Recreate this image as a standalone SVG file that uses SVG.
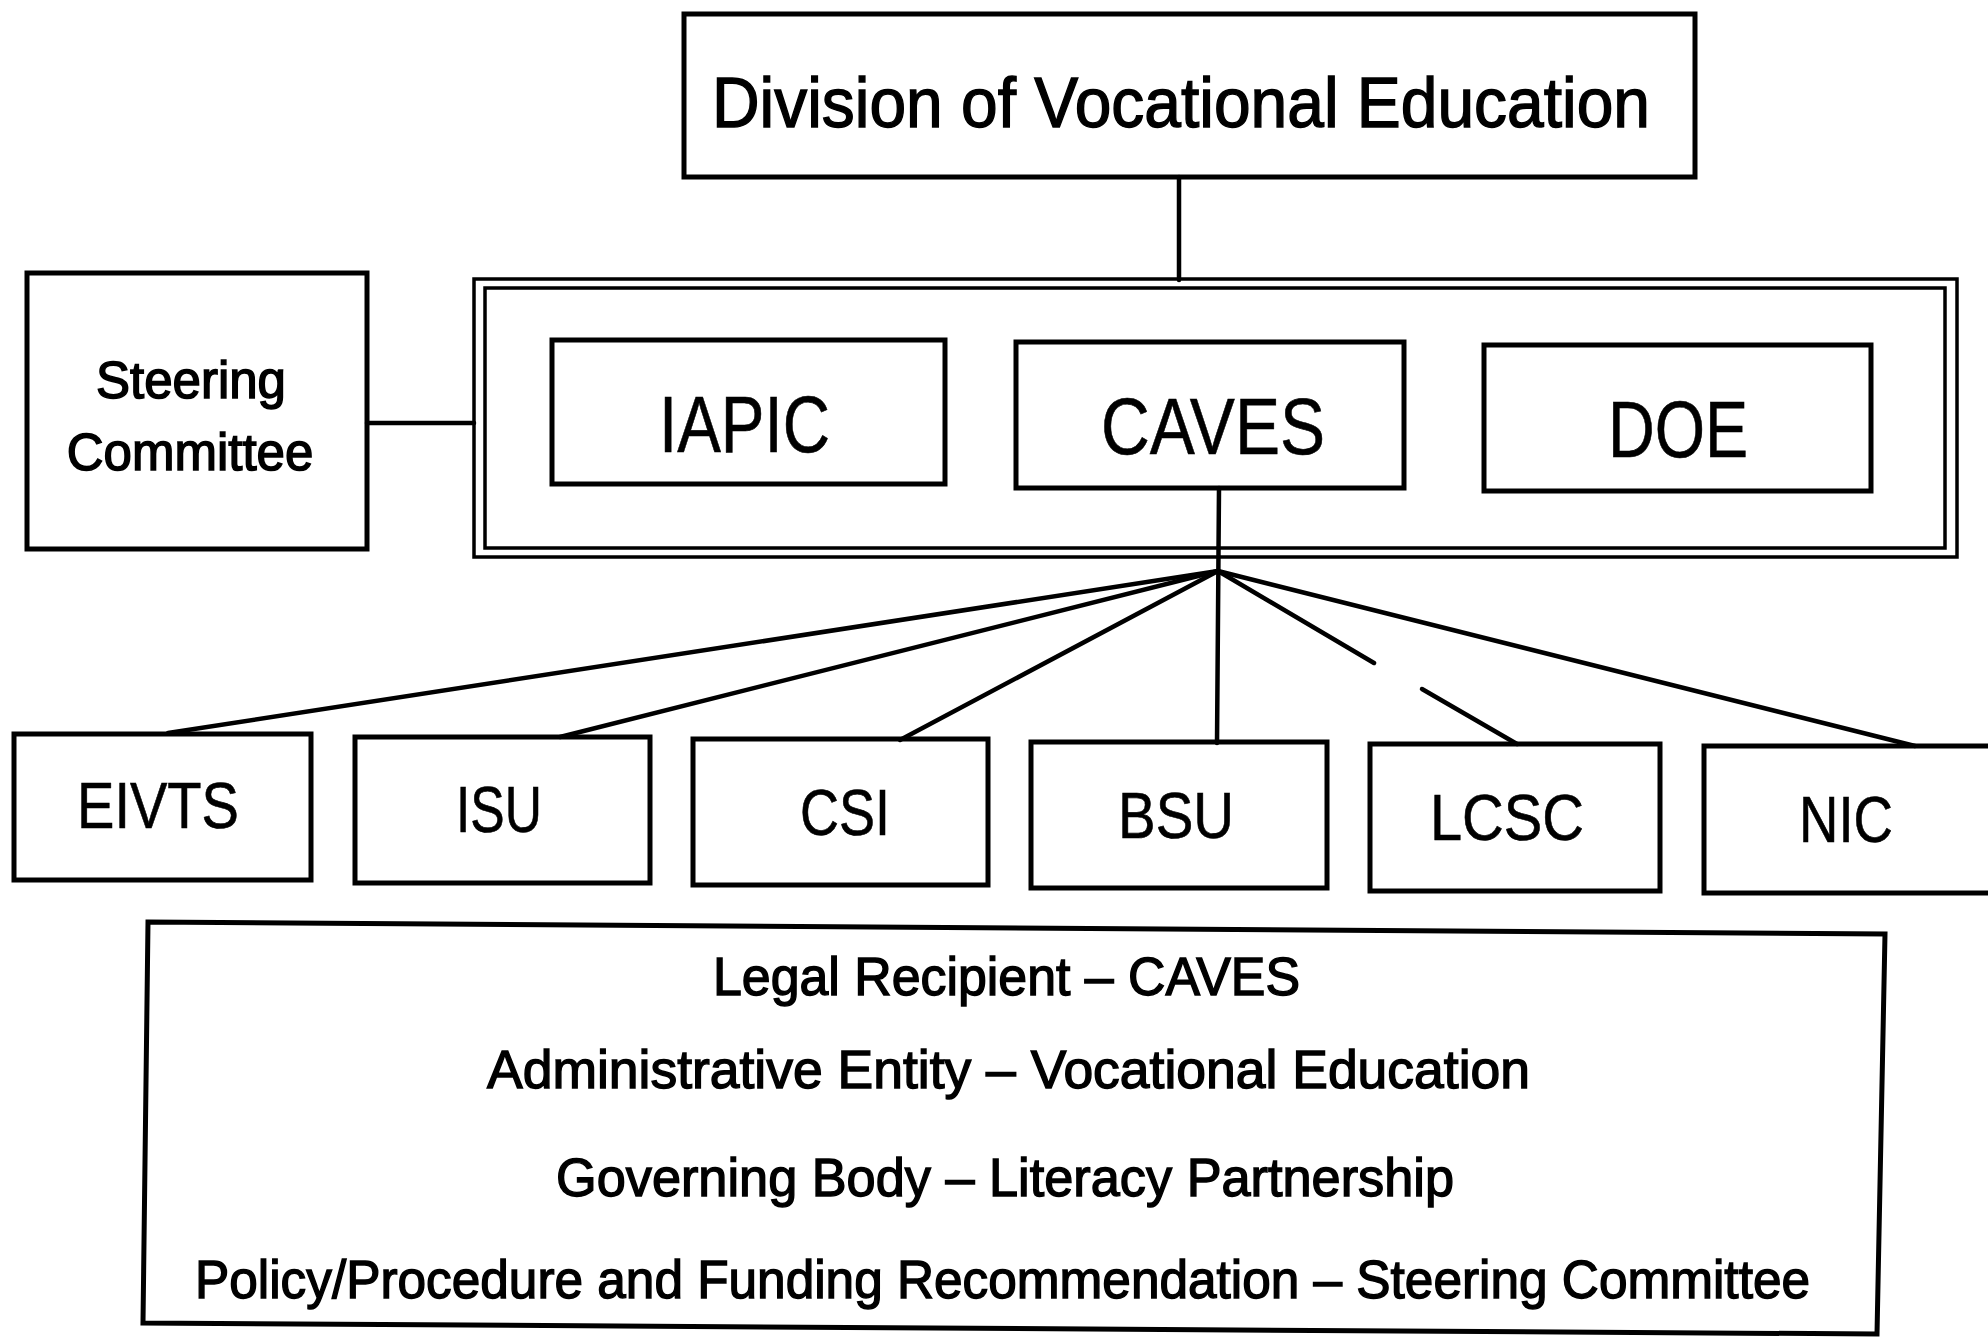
<svg xmlns="http://www.w3.org/2000/svg" width="1988" height="1337" viewBox="0 0 1988 1337">
  <style>
    .box { fill: none; stroke: #000; stroke-width: 5; }
    .frame { fill: none; stroke: #000; stroke-width: 3.5; }
    .wire { fill: none; stroke: #000; stroke-width: 4.5; stroke-linecap: round; }
    text { font-family: "Liberation Sans", Arial, sans-serif; fill: #000; stroke: #000; stroke-width: 0.8; }
    .title { font-size: 70px; stroke-width: 1.4; }
    .big { font-size: 80px; stroke-width: 0.6; }
    .unit { font-size: 64px; stroke-width: 0.6; }
    .side { font-size: 51px; stroke-width: 1.5; }
    .note { font-size: 53px; stroke-width: 1.4; }
  </style>
  <rect width="1988" height="1337" fill="#fff"/>

  <!-- reporting lines -->
  <g id="connectors">
    <line class="wire" x1="1179" y1="177" x2="1179" y2="280"/>
    <line class="wire" x1="367" y1="423" x2="474" y2="423"/>
    <line class="wire" x1="1219" y1="488" x2="1217" y2="743"/>
    <line class="wire" x1="1218" y1="571" x2="168" y2="733"/>
    <line class="wire" x1="1218" y1="571" x2="560" y2="737"/>
    <line class="wire" x1="1218" y1="571" x2="900" y2="740"/>
    <line class="wire" x1="1218" y1="571" x2="1374" y2="663"/>
    <line class="wire" x1="1422" y1="689" x2="1517" y2="744"/>
    <line class="wire" x1="1218" y1="571" x2="1915" y2="746"/>
  </g>

  <g id="division">
    <rect class="box" x="684" y="14" width="1011" height="163"/>
    <text class="title" x="712" y="127" textLength="938" lengthAdjust="spacingAndGlyphs">Division of Vocational Education</text>
  </g>

  <g id="steering-committee">
    <rect class="box" x="27" y="273" width="340" height="276"/>
    <text class="side" x="191" y="398" text-anchor="middle">Steering</text>
    <text class="side" x="190" y="470" text-anchor="middle">Committee</text>
  </g>

  <!-- double-ruled frame around the three partners -->
  <g id="partnership">
    <rect class="frame" x="474" y="279" width="1483" height="278"/>
    <rect class="frame" x="485" y="288" width="1460" height="260"/>
  </g>

  <g id="iapic">
    <rect class="box" x="552" y="340" width="393" height="144"/>
    <text class="big" x="659" y="452" textLength="171" lengthAdjust="spacingAndGlyphs">IAPIC</text>
  </g>
  <g id="caves">
    <rect class="box" x="1016" y="342" width="388" height="146"/>
    <text class="big" x="1101" y="454" textLength="224" lengthAdjust="spacingAndGlyphs">CAVES</text>
  </g>
  <g id="doe">
    <rect class="box" x="1484" y="345" width="387" height="146"/>
    <text class="big" x="1608" y="457" textLength="140" lengthAdjust="spacingAndGlyphs">DOE</text>
  </g>

  <g id="eivts">
    <rect class="box" x="14" y="734" width="297" height="146"/>
    <text class="unit" x="77" y="828" textLength="162" lengthAdjust="spacingAndGlyphs">EIVTS</text>
  </g>
  <g id="isu">
    <rect class="box" x="355" y="737" width="295" height="146"/>
    <text class="unit" x="456" y="832" textLength="86" lengthAdjust="spacingAndGlyphs">ISU</text>
  </g>
  <g id="csi">
    <rect class="box" x="693" y="739" width="295" height="146"/>
    <text class="unit" x="800" y="835" textLength="90" lengthAdjust="spacingAndGlyphs">CSI</text>
  </g>
  <g id="bsu">
    <rect class="box" x="1031" y="742" width="296" height="146"/>
    <text class="unit" x="1118" y="838" textLength="116" lengthAdjust="spacingAndGlyphs">BSU</text>
  </g>
  <g id="lcsc">
    <rect class="box" x="1370" y="744" width="290" height="147"/>
    <text class="unit" x="1430" y="840" textLength="154" lengthAdjust="spacingAndGlyphs">LCSC</text>
  </g>
  <g id="nic">
    <rect class="box" x="1704" y="746" width="300" height="147"/>
    <text class="unit" x="1799" y="842" textLength="94" lengthAdjust="spacingAndGlyphs">NIC</text>
  </g>

  <g id="roles">
    <polygon class="box" points="148,922 1885,934 1877,1334 143,1323"/>
    <text class="note" x="713" y="995" textLength="587" lengthAdjust="spacingAndGlyphs">Legal Recipient – CAVES</text>
    <text class="note" x="487" y="1088" textLength="1043" lengthAdjust="spacingAndGlyphs">Administrative Entity – Vocational Education</text>
    <text class="note" x="556" y="1196" textLength="898" lengthAdjust="spacingAndGlyphs">Governing Body – Literacy Partnership</text>
    <text class="note" x="195" y="1298" textLength="1615" lengthAdjust="spacingAndGlyphs">Policy/Procedure and Funding Recommendation – Steering Committee</text>
  </g>
</svg>
